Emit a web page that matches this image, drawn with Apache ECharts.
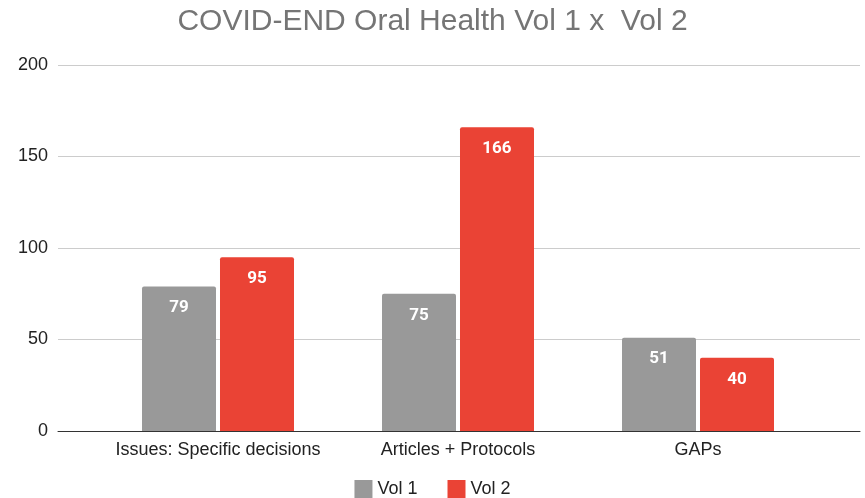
<!DOCTYPE html>
<html><head><meta charset="utf-8">
<script src="https://cdn.jsdelivr.net/npm/echarts@6/dist/echarts.min.js"></script>
<style>html,body{margin:0;padding:0;background:#fff}#c{width:865px;height:498px}</style>
</head><body><div id="c"></div>
<script>
const categories = ["Issues: Specific decisions", "Articles + Protocols", "GAPs"];
const vol1 = [79, 75, 51];
const vol2 = [95, 166, 40];
const yTicks = [0, 50, 100, 150, 200];

const chart = echarts.init(document.getElementById('c'));
const sans = 'Arial, Liberation Sans, sans-serif';
chart.setOption({
  animation: false,
  title: {text: 'COVID-END Oral Health Vol 1 x  Vol 2', left: 'center', top: 2,
    textStyle: {fontFamily: sans, fontSize: 30, fontWeight: 'normal', color: '#757575'}},
  legend: {top: 480, left: 'center', padding: 0, itemWidth: 18, itemHeight: 18, itemGap: 30, icon: 'rect',
    textStyle: {fontFamily: sans, fontSize: 18, color: '#222'},
    data: ['Vol 1', 'Vol 2']},
  grid: [
    {left: 58, right: 5, top: 65, bottom: 67},
    {left: 98, width: 720, top: 65, bottom: 67}
  ],
  xAxis: [
    {gridIndex: 0, type: 'category', data: categories, axisLabel: {show: false}, axisTick: {show: false},
      axisLine: {lineStyle: {color: '#333', width: 1}}},
    {gridIndex: 1, type: 'category', data: categories, axisTick: {show: false}, axisLine: {show: false},
      axisLabel: {interval: 0, hideOverlap: false, fontFamily: sans, fontSize: 18, color: '#222', margin: 10}}
  ],
  yAxis: [
    {gridIndex: 0, type: 'value', min: yTicks[0], max: yTicks[yTicks.length-1], interval: 50,
      axisLabel: {fontFamily: sans, fontSize: 18, color: '#222', margin: 10},
      splitLine: {lineStyle: {color: '#cccccc'}}, axisLine: {show: false}, axisTick: {show: false}},
    {gridIndex: 1, type: 'value', min: 0, max: 200, interval: 50, show: false}
  ],
  series: [
    {name: 'Vol 1', type: 'bar', xAxisIndex: 1, yAxisIndex: 1, data: vol1, barWidth: 74, barGap: '5.4%',
      itemStyle: {color: '#999999', borderRadius: [2, 2, 0, 0]},
      label: {show: true, position: 'insideTop', distance: 13, color: '#fff', fontWeight: 'bold', fontSize: 17, fontFamily: 'Roboto, Arial, sans-serif'}},
    {name: 'Vol 2', type: 'bar', xAxisIndex: 1, yAxisIndex: 1, data: vol2, barWidth: 74,
      itemStyle: {color: '#EA4335', borderRadius: [2, 2, 0, 0]},
      label: {show: true, position: 'insideTop', distance: 13, color: '#fff', fontWeight: 'bold', fontSize: 17, fontFamily: 'Roboto, Arial, sans-serif'}}
  ]
});
</script></body></html>
